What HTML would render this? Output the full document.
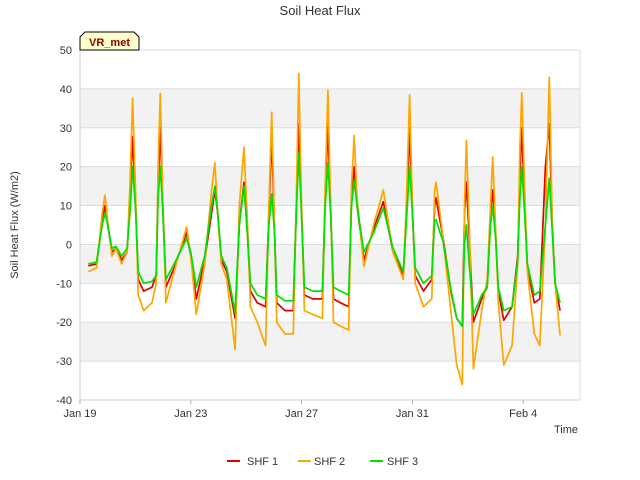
<!DOCTYPE html>
<html><head><meta charset="utf-8"><style>
body{margin:0;background:#fff;}
svg{display:block;font-family:"Liberation Sans","DejaVu Sans",sans-serif;}
</style></head><body>
<svg id="chart" width="640" height="480" viewBox="0 0 640 480" xmlns="http://www.w3.org/2000/svg">
<rect x="0" y="0" width="640" height="480" fill="#fff"/>
<text x="320" y="15" text-anchor="middle" font-size="13" fill="#333">Soil Heat Flux</text>
<text transform="translate(18,225) rotate(-90)" text-anchor="middle" font-size="11" fill="#333">Soil Heat Flux (W/m2)</text>
<text x="566" y="433" text-anchor="middle" font-size="11" fill="#333">Time</text>
<g id="bands"></g>
<g id="grid"></g>
<g id="series"></g>
<g id="axes"></g>
<g>
<path d="M80,50 L80,37 L85,32 L134,32 L139,37 L139,50 Z" fill="#ffffcc" stroke="#000" stroke-width="1"/>
<text x="109.5" y="46" text-anchor="middle" font-size="11" font-weight="bold" fill="#8b0000">VR_met</text>
</g>
<g>
<g><line x1="227" y1="461" x2="240" y2="461" stroke="#e00000" stroke-width="2"/><text x="247" y="465" font-size="11" fill="#333">SHF 1</text></g>
<g><line x1="298" y1="461" x2="311" y2="461" stroke="#ffa500" stroke-width="2"/><text x="314" y="465" font-size="11" fill="#333">SHF 2</text></g>
<g><line x1="370" y1="461" x2="383" y2="461" stroke="#00e000" stroke-width="2"/><text x="387" y="465" font-size="11" fill="#333">SHF 3</text></g>
</g>
</svg>
<script>
const times=[0.3,0.6,0.8,0.9,1.0,1.15,1.3,1.5,1.7,1.8,1.9,2.0,2.1,2.3,2.6,2.75,2.82,2.9,2.98,3.1,3.4,3.85,4.0,4.2,4.5,4.75,4.87,4.97,5.1,5.3,5.6,5.75,5.92,6.05,6.15,6.4,6.7,6.82,6.92,7.02,7.1,7.4,7.7,7.82,7.9,7.98,8.1,8.4,8.75,8.85,8.95,9.05,9.15,9.4,9.7,9.8,9.9,10.0,10.25,10.6,10.95,11.3,11.67,11.8,11.9,12.0,12.1,12.4,12.7,12.8,12.85,13.0,13.1,13.4,13.6,13.8,13.88,13.95,14.05,14.2,14.5,14.7,14.82,14.9,15.0,15.1,15.3,15.6,15.8,15.88,15.95,16.05,16.15,16.4,16.6,16.8,16.94,17.05,17.15,17.33];
const shf2=[-7,-6,8,12.7,6,-3,-1,-5,-2,15,37.5,15,-13,-17,-15,-10,20,38.8,15,-15,-7,4.5,-3,-18,-5,14,21,8,-5,-9,-27,10,25,5,-16,-20,-26,10,34,5,-20,-23,-23,15,44,15,-17,-18,-19,15,39.7,10,-20,-21,-22,15,28,12,-5.7,5,14,-2,-9,15,38.4,10,-10,-16,-14,14,16,8,2,-18,-31,-36,10,26.8,5,-32,-17,-9,10,22.5,5,-15,-31,-26,-5,25,39,15,-7,-23,-26,5,43,5,-10,-23.4];
const shf1=[-5.5,-5,6,10,5,-2,-1,-4,-2,12,27.7,12,-9,-12,-11,-8,15,30,12,-11,-6,3,-3,-14,-4,8,14,8,-4,-7,-19,5,16,2,-12,-15,-16,8,28,4,-15,-17,-17,12,31,12,-13,-14,-14,12,31,8,-14,-15,-16,12,20,10,-4,4,11,-2,-8,10,30,8,-8,-12,-9,10,12,6,2,-12.5,-19,-21,8,16,2,-20,-14,-11,8,14,3,-12,-19.5,-16,-3,18,30,10,-6,-15,-14,20,31,5,-10,-17];
const shf3=[-5,-4.5,5,8,5,-1,-0.5,-3,-1,8,20,10,-7,-10,-9.5,-8,12,20,10,-9,-5,1.5,-2,-11,-3,10,15,8,-3,-6,-17.5,5,15,2,-10,-13,-14,5,13,3,-13,-14.5,-14.5,10,23.5,10,-11,-12,-12,10,21,8,-11,-12,-13,10,16.5,10,-2,3,9.4,-1,-7,8,20,8,-6,-10,-8,6,6.4,3,1,-12,-19,-21,0,5,-5,-18,-13,-11,5,10,2,-11,-17,-16,-4,12,20,8,-5,-13,-12,5,17,3,-10,-15];
const yTicks=[-40,-30,-20,-10,0,10,20,30,40,50];
const xTickDays=[0,4,8,12,16];
const xTickLabels=["Jan 19","Jan 23","Jan 27","Jan 31","Feb 4"];
const X0=80,X1=580,Y0=50,Y1=400,DMAX=18.05,VMIN=-40,VMAX=50;
const xs=d=>X0+d/DMAX*(X1-X0);
const ys=v=>Y1-(v-VMIN)/(VMAX-VMIN)*(Y1-Y0);
const NS="http://www.w3.org/2000/svg";
function mk(tag,attrs,parent){const e=document.createElementNS(NS,tag);for(const k in attrs)e.setAttribute(k,attrs[k]);parent.appendChild(e);return e;}
const bands=document.getElementById('bands'),grid=document.getElementById('grid'),ser=document.getElementById('series'),axes=document.getElementById('axes');
const bg=mk('rect',{x:X0,y:Y0,width:X1-X0,height:Y1-Y0,fill:'#fff'},bands);


for(let i=0;i<yTicks.length-1;i++){
  if(i%2===1){
    const r=mk('rect',{x:X0,y:ys(yTicks[i+1]),width:X1-X0,height:ys(yTicks[i])-ys(yTicks[i+1]),fill:'#f2f2f2'},bands);
    
    
  }
}
yTicks.forEach(v=>{
  const l=mk('line',{x1:X0,x2:X1,y1:ys(v),y2:ys(v),stroke:'#dcdcdc','stroke-width':1},grid);
  
  
  const t=mk('text',{x:X0-8,y:ys(v)+4,'text-anchor':'end','font-size':11,fill:'#333'},axes);
  t.textContent=v;
  
  
});
xTickDays.forEach((d,i)=>{
  const l=mk('line',{x1:xs(d),x2:xs(d),y1:Y1,y2:Y1+4,stroke:'#aaa'},axes);
  
  
  const t=mk('text',{x:xs(d),y:Y1+17,'text-anchor':'middle','font-size':11,fill:'#333'},axes);
  t.textContent=xTickLabels[i];
  
  
});
const ax=mk('line',{x1:X0,x2:X0,y1:Y0,y2:Y1,stroke:'#ccc'},axes);


const ax2=mk('line',{x1:X0,x2:X1,y1:Y1,y2:Y1,stroke:'#ccc'},axes);


const ax3=mk('line',{x1:X1,x2:X1,y1:Y0,y2:Y1,stroke:'#ddd'},axes);


[[shf1,'#e00000','series-shf1'],[shf2,'#ffa500','series-shf2'],[shf3,'#00e000','series-shf3']].forEach(([vals,c,n])=>{
  const pts=times.map((t,i)=>xs(t).toFixed(1)+','+ys(vals[i]).toFixed(1)).join(' ');
  const p=mk('polyline',{points:pts,fill:'none',stroke:c,'stroke-width':1.7,'stroke-linejoin':'round'},ser);
  
  
});
</script>
</body></html>
